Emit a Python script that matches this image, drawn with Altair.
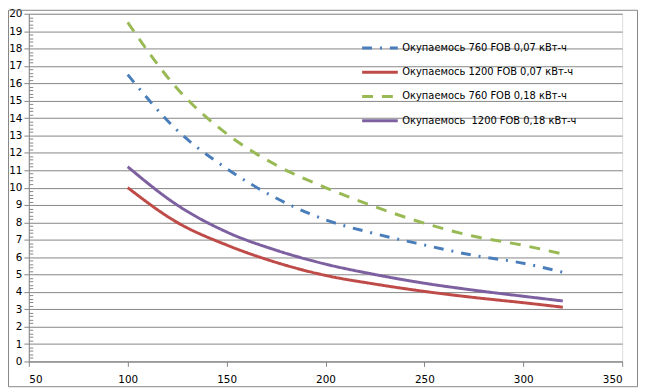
import altair as alt
import pandas as pd

x_vals = [100, 125, 150, 175, 200, 225, 250, 275, 300, 320]
series_names = [
    "Окупаемось 760 FOB 0,07 кВт-ч",
    "Окупаемось 1200 FOB 0,07 кВт-ч",
    "Окупаемось 760 FOB 0,18 кВт-ч",
    "Окупаемось \u00a01200 FOB 0,18 кВт-ч",
]
blue_760_007 = [16.5, 13.3, 11.1, 9.4, 8.15, 7.35, 6.7, 6.1, 5.65, 5.13]
red_1200_007 = [10.0, 8.0, 6.7, 5.7, 4.95, 4.45, 4.03, 3.68, 3.38, 3.12]
green_760_018 = [19.5, 15.7, 13.1, 11.3, 10.0, 8.9, 7.95, 7.2, 6.68, 6.18]
purple_1200_018 = [11.2, 9.0, 7.45, 6.4, 5.6, 5.0, 4.5, 4.1, 3.75, 3.48]
x_ticks = [50, 100, 150, 200, 250, 300, 350]
y_ticks = list(range(0, 21))
y_minor = [i / 5 for i in range(0, 101) if i % 5 != 0]

colors = ["#4A7EBB", "#BE4B48", "#98B954", "#7D60A0"]
dashes = [[10, 8, 2, 8], [1, 0], [11, 9], [1, 0]]

rows = []
for name, vals in zip(series_names, [blue_760_007, red_1200_007, green_760_018, purple_1200_018]):
    for xv, yv in zip(x_vals, vals):
        rows.append({"x": xv, "y": yv, "series": name})
df = pd.DataFrame(rows)

FONT = "DejaVu Sans"
GRAY = "#868686"
W, H = 599, 351

x_axis = alt.Axis(values=x_ticks, grid=False, domainColor=GRAY, tickColor=GRAY,
                  tickSize=5, labelPadding=8, labelFontSize=10.5, labelFont=FONT,
                  labelColor="#000000", title=None)
x_enc = alt.X("x:Q", scale=alt.Scale(domain=[50, 350], nice=False), axis=x_axis)
y_scale = alt.Scale(domain=[0, 20], nice=False)

lines = alt.Chart(df).mark_line(strokeWidth=3, interpolate="monotone", strokeCap="butt").encode(
    x=x_enc,
    y=alt.Y("y:Q", scale=y_scale,
            axis=alt.Axis(values=y_ticks, grid=True, gridColor=GRAY, gridWidth=1,
                          domainColor=GRAY, tickColor=GRAY, tickSize=5, labelPadding=2,
                          labelFontSize=10.5, labelFont=FONT, labelColor="#000000",
                          title=None)),
    color=alt.Color("series:N", scale=alt.Scale(domain=series_names, range=colors),
                    legend=alt.Legend(orient="none", legendX=341, legendY=21, title=None,
                                      symbolType="M-1.5,0H1.5", symbolSize=576,
                                      symbolStrokeWidth=3, labelFont=FONT,
                                      labelFontSize=10, labelColor="#000000",
                                      labelOffset=9, rowPadding=4.5, padding=0,
                                      labelLimit=400)),
    strokeDash=alt.StrokeDash("series:N", scale=alt.Scale(domain=series_names, range=dashes),
                              legend=None),
    detail="series:N",
)

minor = alt.Chart(df).mark_line(opacity=0).encode(
    x=x_enc,
    y=alt.Y("y:Q", scale=y_scale,
            axis=alt.Axis(values=y_minor, orient="left", offset=-4, grid=False,
                          domain=False, labels=False, tickColor=GRAY, tickSize=4,
                          title=None)),
    detail="series:N",
)

border = alt.Chart(alt.Data(values=[{"a": 1}])).mark_rect(
    filled=False, stroke=GRAY, strokeWidth=1
).encode(
    x=alt.value(-20.5), x2=alt.value(W + 15.5),
    y=alt.value(-3.5), y2=alt.value(H + 25.5),
)

chart = alt.layer(lines, minor, border).resolve_axis(y="independent").properties(
    width=W, height=H,
    autosize=alt.AutoSizeParams(type="none"),
    padding={"left": 21, "top": 4, "right": 17, "bottom": 27},
).configure_view(stroke=None).configure(background="white")

chart.save("out.html", embed_options={"renderer": "svg", "actions": False})
